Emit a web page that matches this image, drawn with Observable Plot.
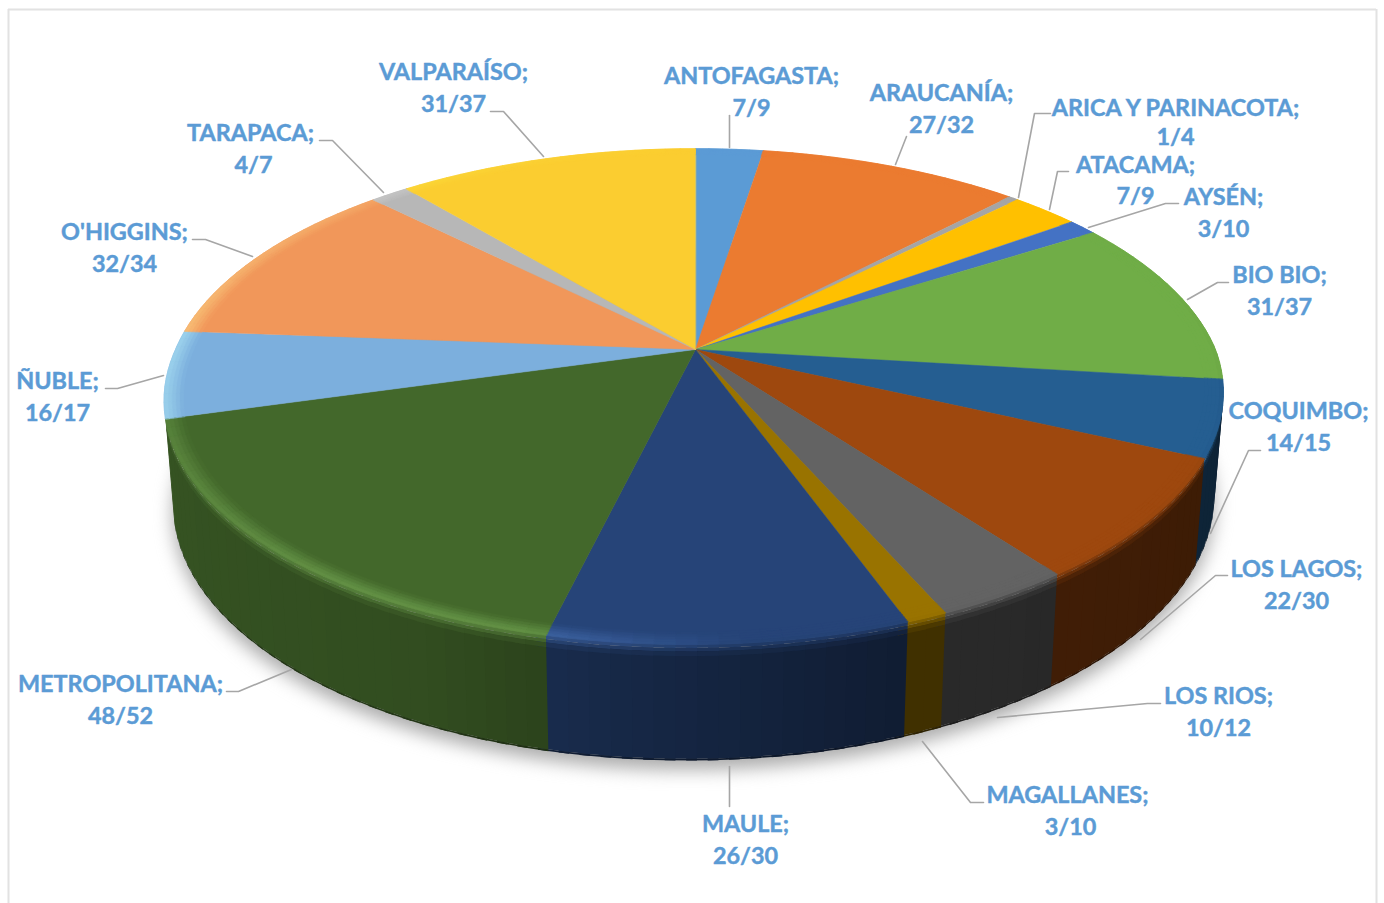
<!DOCTYPE html>
<html><head><meta charset="utf-8">
<style>html,body{margin:0;padding:0;background:#fff}svg{display:block}</style>
<script src="https://cdn.jsdelivr.net/npm/d3@7"></script>
<script src="https://cdn.jsdelivr.net/npm/@observablehq/plot@0.6"></script>
</head><body><div id="chart"></div>
<script>
const regions = ["ANTOFAGASTA","ARAUCANÍA","ARICA Y PARINACOTA","ATACAMA","AYSÉN","BIO BIO","COQUIMBO","LOS LAGOS","LOS RIOS","MAGALLANES","MAULE","METROPOLITANA","ÑUBLE","O'HIGGINS","TARAPACA","VALPARAÍSO"];
const done   = [7,27,1,7,3,31,14,22,10,3,26,48,16,32,4,31];
const totals = [9,32,4,9,10,37,15,30,12,10,30,52,17,34,7,37];
const sliceColors = ["#5B9BD5","#EB7B30","#A5A5A5","#FFC000","#4472C4","#70AD47","#255E91","#9E480E","#636363","#997300","#264478","#43682B","#7CAFDD","#F1975A","#B7B7B7","#FBCD30"];

// annotation layout, in the pixel space of the x/y scales: name line [x,y], count line [x,y]
const nameLines = [[751,73],[941,90],[1175,105],[1135,162],[1223,194],[1279,272],[1298,408],[1296,566],[1218,693],[1067,792],[745,821],[120,681],[57,378],[124,229],[250,130],[453,69]];
const countLines = [[751,105],[941,122],[1175,134],[1135,193],[1223,226],[1279,304],[1298,440],[1296,598],[1218,725],[1070,824],[745,853],[120,713],[57,410],[124,261],[253,162],[453,101]];
const leaders = [
 [[729,115],[729,147]],
 [[906,136],[895,164]],
 [[1050,113],[1034,113],[1018,197]],
 [[1068,171],[1057,171],[1049,209]],
 [[1178,203],[1165,203],[1088,227]],
 [[1228,282],[1217,282],[1187,299]],
 [[1260,450],[1248,450],[1210,533]],
 [[1227,575],[1215,575],[1140,639]],
 [[1160,703],[1147,703],[997,717]],
 [[983,802],[970,802],[922,741]],
 [[729,766],[729,806]],
 [[226,691],[238,691],[291,669]],
 [[105,388],[117,388],[163,375]],
 [[192,239],[205,239],[252,256]],
 [[319,140],[332,140],[383,192]],
 [[490,111],[503,111],[543,156]]
];

// 3D view of the pie
const view = {cx:695, cy:349, rx:520, ry:239, persp:0.19, cyB:450, kx:0.983, ky:1.051, lean:8.5};
function project(a, r, d) {
  const X = Math.sin(a)*r, Y = -Math.cos(a)*r, s = 1/(1-view.persp*Y);
  const lean = -view.lean*Math.min(1,Math.max(Y,0)*1.1);
  const x0 = view.cx+view.rx*X*s+lean, y0 = view.cy+view.ry*Y*s;
  const x1 = view.cx+view.rx*view.kx*X*s+lean, y1 = view.cyB+view.ry*view.ky*Y*s;
  return [x0+(x1-x0)*d, y0+(y1-y0)*d];
}
const deg = a => a*180/Math.PI;
const wallF = d3.scaleLinear([85,160,185,205,254],[0.36,0.42,0.58,0.74,0.8]).clamp(true);
const hl = d3.scaleLinear([0,100,175,195,215,254,275,315,360],[0,0,0,0.6,0.6,0.35,0.4,0.15,0]).clamp(true);
const rimE = d3.scaleLinear([0,50,85,100,250,256,360],[0,0,0.7,1,1,0,0]).clamp(true);
const mix = (a,b,t) => d3.interpolateRgb(a,b)(t);
const wallEnd = 2*Math.PI*(d3.sum(done.slice(0,12))/d3.sum(done)); // no wall visible beyond METROPOLITANA

const wedges = d3.pie().sort(null).value((_, i) => done[i])(regions);
const shadowRing=[], wallQuads=[], lowBevel=[], topFace=[], bevel=[];
let qid = 0;
function quad(out, a0, a1, r0, d0, r1, d1, color) {
  const id = qid++;
  for (const [a,r,d] of [[a0,r0,d0],[a1,r0,d0],[a1,r1,d1],[a0,r1,d1]]) {
    const [x,y] = project(a,r,d);
    out.push({id,x,y,color});
  }
}
const bands = [[.965,0,.972,0],[.972,0,.979,0],[.979,0,.986,0],[.986,0,.993,0],[.993,0,1,0],[1,0,1,.03],[1,.03,1,.06],[1,.06,1,.1]];
function bandColor(t, base, a) {
  const th = deg(a);
  const lit = mix(base,d3.rgb(base).brighter(1.2).formatHex(),hl(th));
  const peak = mix(lit,"#ffffff",hl(th)*0.1);
  const wall = mix(base,"#000000",1-wallF(th));
  const end = mix(base,wall,rimE(th));
  return t<.55 ? mix(base,peak,t/.55) : mix(peak,end,(t-.55)/.45);
}
wedges.forEach((w,i) => {
  const base = sliceColors[i], span = w.endAngle-w.startAngle, n = Math.max(2,Math.ceil(span/(Math.PI/90))), step = span/n;
  const id = qid++;
  topFace.push({id,x:view.cx,y:view.cy,color:base});
  for (let k=0;k<=n;k++){
    const [x,y]=project(w.startAngle+step*k,1,0);
    topFace.push({id,x,y,color:base});
  }
  for (let k=0;k<n;k++){
    const a0=w.startAngle+step*k, am=a0+step/2, th=deg(am);
    const a1=Math.min(a0+step*1.5, w.endAngle+step*0.5);
    const a1w=Math.min(a1, wallEnd);
    const front = th>80 && am<wallEnd;
    if (front){
      const wc = mix(base,"#000000",1-wallF(th));
      quad(wallQuads,a0,a1w,1,0.05,1,0.985,wc);
      quad(wallQuads,a0,a1w,1,0.985,1,1,mix(wc,"#000000",.3));
    }
    bands.forEach((b,j)=>{
      const t=(j+.5)/bands.length;
      if (j<5) quad(bevel,a0,a0+step,b[0],b[1],b[2],b[3],bandColor(t,base,am));
      else if (front) quad(lowBevel,a0,a1w,b[0],b[1],b[2],b[3],bandColor(t,base,am));
    });
  }
});
for (let k=0;k<=180;k++){
  const [x,y]=project(k*Math.PI/90,1,1);
  shadowRing.push({x,y:y+9});
}
const nameRows = regions.map((name,i)=>({text:`${name};`,x:nameLines[i][0],y:nameLines[i][1]}));
const countRows = regions.map((_,i)=>({text:`${done[i]}/${totals[i]}`,x:countLines[i][0],y:countLines[i][1]}));
const leaderPts = leaders.flatMap((pts,i)=>pts.map(([x,y])=>({i,x,y})));

const polygon = (data,opts={}) => Plot.line(data,{x:"x",y:"y",z:"id",fill:"color",stroke:"none",curve:"linear-closed",...opts});
const labelStyle = {x:"x",y:"y",dy:3,text:"text",fill:"#5B9BD5",stroke:"#5B9BD5",strokeWidth:0.45,fontSize:23.4,fontWeight:700,fontFamily:"Lato",textAnchor:"middle",lineAnchor:"middle"};

const chart = Plot.plot({
  width:1384, height:903, margin:0,
  x:{domain:[0,1384],range:[0,1384],axis:null},
  y:{domain:[0,903],range:[0,903],axis:null},
  color:{type:"identity"},
  style:{background:"#fff"},
  marks:[
    Plot.ruleX([8,1376],{y1:9,y2:903,stroke:"#E2E2E2",strokeWidth:2}),
    Plot.ruleY([9],{x1:8,x2:1376,stroke:"#E2E2E2",strokeWidth:2}),
    Plot.line(shadowRing,{x:"x",y:"y",fill:"#aaaaaa",stroke:"none",curve:"linear-closed",imageFilter:"blur(9px)"}),
    polygon(wallQuads),
    polygon(lowBevel),
    polygon(topFace,{stroke:"color",strokeWidth:0.5}),
    polygon(bevel,{stroke:"color",strokeWidth:0.7}),
    Plot.line(leaderPts,{x:"x",y:"y",z:"i",stroke:"#A6A6A6",strokeWidth:1.6,curve:"linear"}),
    Plot.text(nameRows,labelStyle),
    Plot.text(countRows,labelStyle)
  ]
});
document.getElementById("chart").append(chart);
</script></body></html>
